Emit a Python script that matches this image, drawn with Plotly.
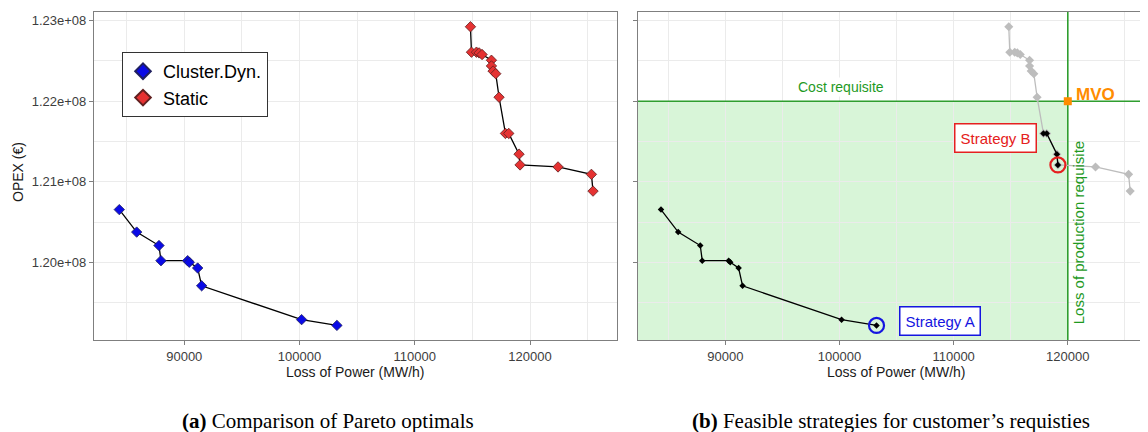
import plotly.graph_objects as go

# ---------------- data ----------------
dyn_loss = [84363, 85872, 87806, 87979, 90295, 90434, 91162, 91509, 100182, 103244]
dyn_opex = [1.20654e8, 1.20375e8, 1.20208e8, 1.20020e8, 1.20020e8, 1.20000e8,
            1.19929e8, 1.19708e8, 1.19288e8, 1.19216e8]

sta_loss = [114831, 114918, 115351, 115580, 115837, 116652, 116652, 116790, 117025,
            117311, 117866, 118152, 119046, 119133, 122428, 125326, 125464]
sta_opex = [1.22925e8, 1.22609e8, 1.22609e8, 1.22600e8, 1.22580e8, 1.22509e8,
            1.22438e8, 1.22375e8, 1.22342e8, 1.22050e8, 1.21600e8, 1.21600e8,
            1.21343e8, 1.21209e8, 1.21184e8, 1.21092e8, 1.20884e8]

req_cost = 1.22e8        # cost requisite
req_loss = 120000        # loss of production requisite

strategy_a = (103244, 1.19216e8)
strategy_b = (119133, 1.21209e8)

x_ticks = [90000, 100000, 110000, 120000]
x_ticktext = ["90000", "100000", "110000", "120000"]
y_ticks = [1.20e8, 1.21e8, 1.22e8, 1.23e8]
y_ticktext = ["1.20e+08", "1.21e+08", "1.22e+08", "1.23e+08"]

# ---------------- layout geometry ----------------
# page body has an 8px margin, so figure coords = page coords - 8
OFF = 8
W, H = 1148, 424
ML, MT = 94 - OFF, 12 - OFF
MB = H - (340 - OFF)
plot_w = W - ML
dom1 = [0, (617 - 94) / plot_w]
dom2 = [(638 - 94) / plot_w, 1.0]
xr1 = [82168, 127545]
xr2 = [82350, 127726]
yr = [1.19035e8, 1.23108e8]

def px(p):   # page x -> paper x
    return (p - 94) / plot_w

def py(p):   # page y -> paper y
    return (340 - p) / 328

BLUE = "#0A0AE6"
RED = "#E53232"
GREY = "#BDBDBD"
GREEN = "#2F9E2F"
GRID = "#EBEBEB"
FRAME = "#7F7F7F"
TICKFONT = dict(family="Liberation Sans, Arial", size=13, color="#3d3d3d")

fig = go.Figure()

# ---- left panel ----
fig.add_trace(go.Scatter(x=dyn_loss, y=dyn_opex, mode="lines", showlegend=False,
                         line=dict(color="black", width=1.3), xaxis="x", yaxis="y"))
fig.add_trace(go.Scatter(x=sta_loss, y=sta_opex, mode="lines", showlegend=False,
                         line=dict(color="black", width=1.3), xaxis="x", yaxis="y"))
fig.add_trace(go.Scatter(
    x=dyn_loss, y=dyn_opex, mode="markers", name="Cluster.Dyn.",
    marker=dict(symbol="diamond", size=8, color=BLUE, line=dict(color="#202060", width=0.8)),
    xaxis="x", yaxis="y"))
fig.add_trace(go.Scatter(
    x=sta_loss, y=sta_opex, mode="markers", name="Static",
    marker=dict(symbol="diamond", size=8, color=RED, line=dict(color="#602020", width=0.8)),
    xaxis="x", yaxis="y"))

# ---- right panel ----
feas = [(x, y) for x, y in zip(sta_loss, sta_opex) if x < req_loss and y < req_cost]
fig.add_trace(go.Scatter(
    x=sta_loss, y=sta_opex, mode="lines+markers", showlegend=False,
    line=dict(color=GREY, width=1.3),
    marker=dict(symbol="diamond", size=7, color=GREY),
    xaxis="x2", yaxis="y2"))
fig.add_trace(go.Scatter(
    x=[p[0] for p in feas], y=[p[1] for p in feas], mode="lines+markers", showlegend=False,
    line=dict(color="black", width=1.3),
    marker=dict(symbol="diamond", size=5, color="black"),
    xaxis="x2", yaxis="y2"))
fig.add_trace(go.Scatter(
    x=dyn_loss, y=dyn_opex, mode="lines+markers", showlegend=False,
    line=dict(color="black", width=1.3),
    marker=dict(symbol="diamond", size=5, color="black"),
    xaxis="x2", yaxis="y2"))
fig.add_trace(go.Scatter(
    x=[strategy_a[0]], y=[strategy_a[1]], mode="markers", showlegend=False,
    marker=dict(symbol="circle-open", size=15, color="#1515E0", line=dict(width=2.2)),
    xaxis="x2", yaxis="y2"))
fig.add_trace(go.Scatter(
    x=[strategy_b[0]], y=[strategy_b[1]], mode="markers", showlegend=False,
    marker=dict(symbol="circle-open", size=15, color="#E52020", line=dict(width=2.2)),
    xaxis="x2", yaxis="y2"))
fig.add_trace(go.Scatter(
    x=[req_loss], y=[req_cost], mode="markers", showlegend=False,
    marker=dict(symbol="square", size=8, color="#FF8C00"),
    xaxis="x2", yaxis="y2"))

shapes = [
    dict(type="rect", xref="x2", yref="y2", x0=xr2[0], x1=req_loss, y0=yr[0], y1=req_cost,
         fillcolor="#D8F5D8", line=dict(width=0), layer="below"),
    dict(type="line", xref="x2", yref="y2", x0=xr2[0], x1=xr2[1], y0=req_cost, y1=req_cost,
         line=dict(color=GREEN, width=1.6), layer="between"),
    dict(type="line", xref="x2", yref="y2", x0=req_loss, x1=req_loss, y0=yr[0], y1=yr[1],
         line=dict(color=GREEN, width=1.6), layer="between"),
]

def xaxis(domain, rng, anchor):
    return dict(domain=domain, range=rng, anchor=anchor, tickvals=x_ticks, ticktext=x_ticktext,
                tickfont=TICKFONT, showgrid=True, gridcolor=GRID, gridwidth=1,
                minor=dict(dtick=5000, tick0=0, showgrid=True, gridcolor=GRID, gridwidth=0.8),
                showline=True, linecolor=FRAME, linewidth=1.2, mirror=True,
                ticks="outside", ticklen=4, tickcolor=FRAME, zeroline=False)

def yaxis(anchor, labels, mirror):
    return dict(domain=[0, 1], range=yr, anchor=anchor, tickvals=y_ticks,
                ticktext=y_ticktext, showticklabels=labels, tickfont=TICKFONT,
                showgrid=True, gridcolor=GRID, gridwidth=1,
                minor=dict(dtick=5e5, tick0=0, showgrid=True, gridcolor=GRID, gridwidth=0.8),
                showline=True, linecolor=FRAME, linewidth=1.2, mirror=mirror,
                ticks="outside", ticklen=4, tickcolor=FRAME, zeroline=False)

AXT = dict(family="Liberation Sans, Arial", size=14, color="#1a1a1a")
CAP = dict(family="Liberation Serif, Times New Roman", size=21, color="black")
annotations = [
    dict(text="Loss of Power (MW/h)", xref="paper", yref="paper",
         x=px(355), y=py(372), showarrow=False, font=AXT, xanchor="center", yanchor="middle"),
    dict(text="Loss of Power (MW/h)", xref="paper", yref="paper",
         x=px(896), y=py(372), showarrow=False, font=AXT, xanchor="center", yanchor="middle"),
    dict(text="OPEX (€)", xref="paper", yref="paper", x=px(18), y=py(172),
         textangle=-90, showarrow=False, font=AXT, xanchor="center", yanchor="middle"),
    dict(text="<b>(a)</b> Comparison of Pareto optimals", xref="paper", yref="paper",
         x=px(328), y=py(421), showarrow=False, font=CAP, xanchor="center", yanchor="middle"),
    dict(text="<b>(b)</b> Feasible strategies for customer’s requisties", xref="paper",
         yref="paper", x=px(891), y=py(421), showarrow=False, font=CAP,
         xanchor="center", yanchor="middle"),
    dict(text="Cost requisite", xref="x2", yref="y2", x=100150, y=req_cost, yshift=14,
         showarrow=False, bgcolor="white",
         font=dict(family="Liberation Sans, Arial", size=14, color="#1F9A1F"),
         xanchor="center", yanchor="middle"),
    dict(text="<b>MVO</b>", xref="x2", yref="y2", x=req_loss, y=req_cost, xshift=6, yshift=7,
         showarrow=False, font=dict(family="Liberation Sans, Arial", size=17, color="#FF8C00"),
         xanchor="left", yanchor="middle"),
    dict(text="Loss of production requisite", xref="x2", yref="y2", x=req_loss, y=1.2037e8,
         xshift=11, textangle=-90, showarrow=False,
         font=dict(family="Liberation Sans, Arial", size=15, color="#1F9A1F"),
         xanchor="center", yanchor="middle"),
    dict(text="Strategy A", xref="x2", yref="y2", x=108764, y=1.19271e8, showarrow=False,
         bgcolor="white", bordercolor="#1515E0", borderwidth=1.5, borderpad=5,
         font=dict(family="Liberation Sans, Arial", size=15, color="#1515E0"),
         xanchor="center", yanchor="middle"),
    dict(text="Strategy B", xref="x2", yref="y2", x=113655, y=1.21544e8, showarrow=False,
         bgcolor="white", bordercolor="#E52020", borderwidth=1.5, borderpad=5,
         font=dict(family="Liberation Sans, Arial", size=15, color="#E52020"),
         xanchor="center", yanchor="middle"),
]

fig.update_layout(
    width=W, height=H,
    margin=dict(l=ML, r=0, t=MT, b=MB, autoexpand=False),
    paper_bgcolor="white", plot_bgcolor="white",
    xaxis=xaxis(dom1, xr1, "y"),
    yaxis=yaxis("x", True, True),
    xaxis2=xaxis(dom2, xr2, "y2"),
    yaxis2=yaxis("x2", False, False),
    shapes=shapes,
    annotations=annotations,
    legend=dict(x=px(122), y=py(52), xanchor="left", yanchor="top",
                bgcolor="white", bordercolor="#333333", borderwidth=1,
                font=dict(family="Liberation Sans, Arial", size=18, color="black"),
                itemsizing="constant", tracegroupgap=0),
    showlegend=True,
)

fig.write_html("out.html")
